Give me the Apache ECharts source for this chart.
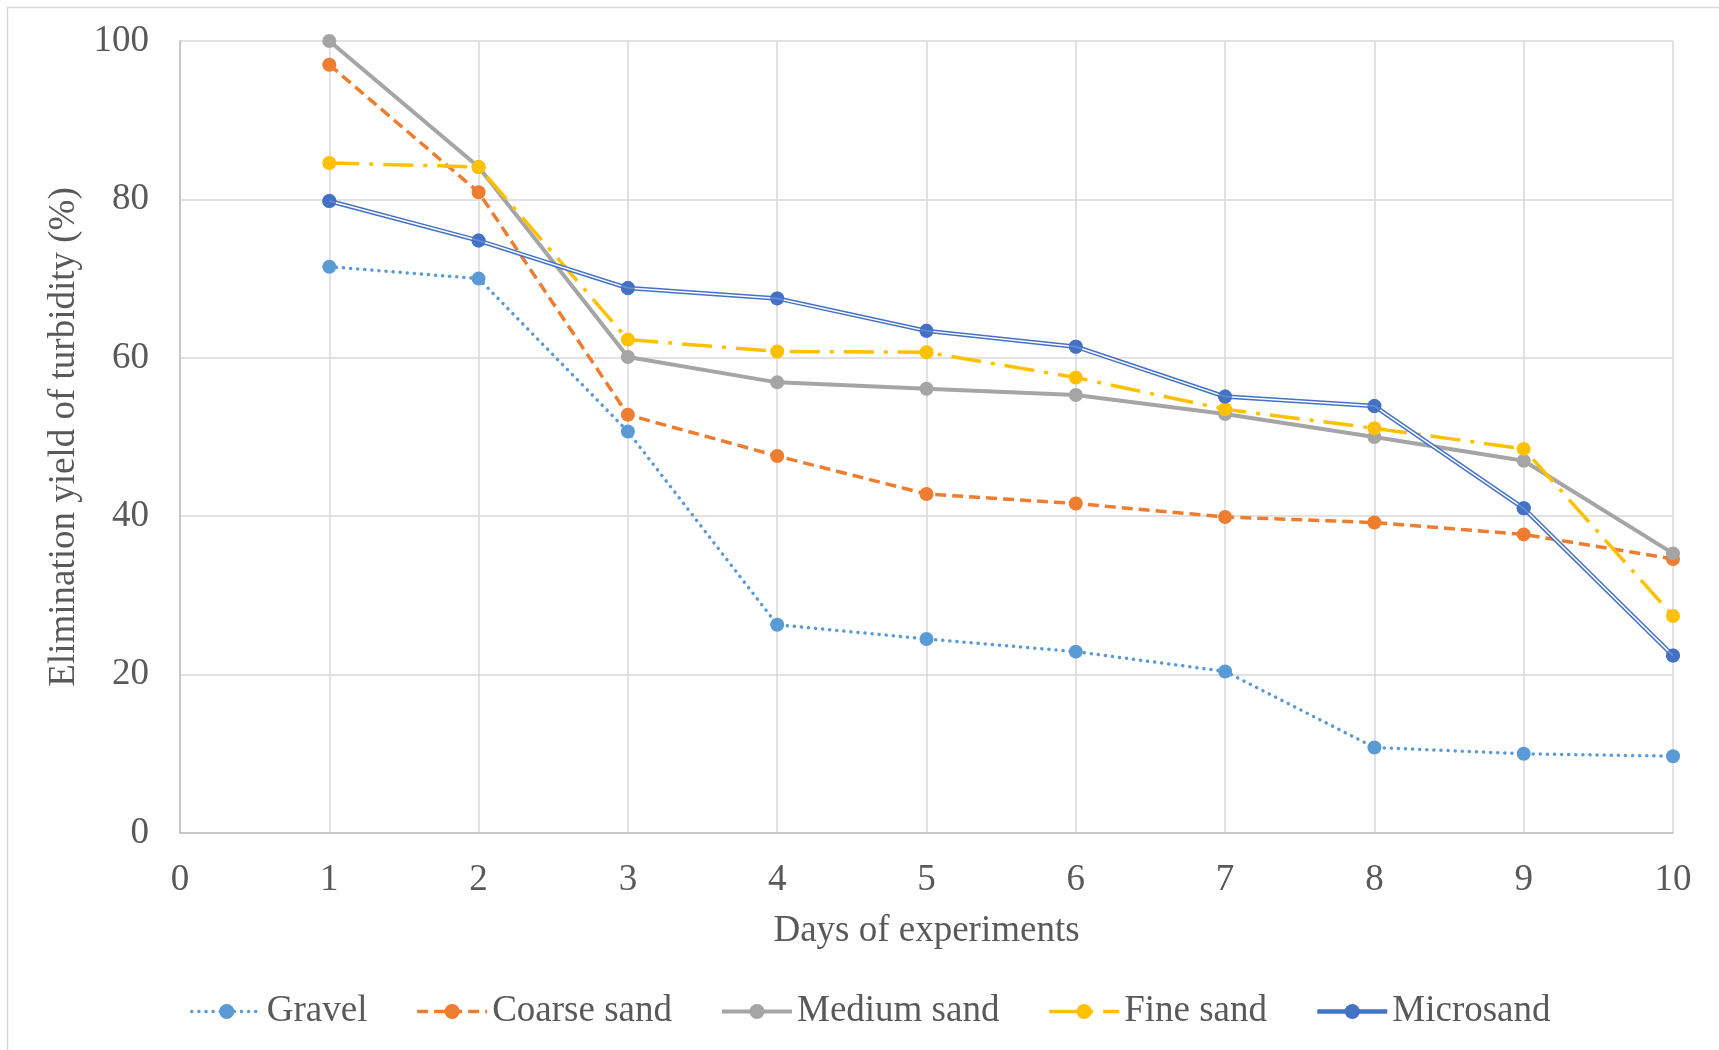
<!DOCTYPE html>
<html>
<head>
<meta charset="utf-8">
<script src="https://cdn.jsdelivr.net/npm/echarts@6/dist/echarts.min.js"></script>
<style>
  html, body { margin: 0; padding: 0; background: #fff; }
  #chart { width: 1719px; height: 1050px; }
</style>
</head>
<body>
<div id="chart"></div>
<script>
const days = [1, 2, 3, 4, 5, 6, 7, 8, 9, 10]
const gravel = [71.5, 70.0, 50.7, 26.3, 24.5, 22.9, 20.4, 10.8, 10.0, 9.7]
const coarseSand = [97.0, 80.9, 52.8, 47.6, 42.8, 41.6, 39.9, 39.2, 37.7, 34.6]
const mediumSand = [100, 84.1, 60.1, 56.9, 56.1, 55.3, 52.9, 50.0, 47.0, 35.3]
const fineSand = [84.6, 84.1, 62.3, 60.8, 60.7, 57.5, 53.5, 51.1, 48.5, 27.4]
const microsand = [79.8, 74.8, 68.8, 67.5, 63.4, 61.4, 55.1, 53.9, 41.0, 22.4]
const legendNames = ['Gravel', 'Coarse sand', 'Medium sand', 'Fine sand', 'Microsand']

const font = '"Liberation Serif", "Times New Roman", serif'
const textColor = '#595959'
const fontSize = 37

// pair each day with its value
function pts(vals) {
  return days.map((d, i) => [d, vals[i]])
}

const chart = echarts.init(document.getElementById('chart'))

const option = {
  backgroundColor: '#fff',
  animation: false,
  textStyle: { fontFamily: font },
  // outer frame of the picture
  graphic: [{
    type: 'rect',
    shape: { x: 7.5, y: 7.5, width: 1760, height: 1100 },
    style: { fill: 'none', stroke: '#D9D9D9', lineWidth: 1.5 },
    silent: true
  }],
  grid: {
    left: 180,
    right: 46,
    top: 41,
    bottom: 217
  },
  legend: {
    data: legendNames,
    left: 185,
    top: 988,
    itemWidth: 70,
    itemHeight: 19,
    itemGap: 48,
    lineStyle: { width: 'inherit' },
    textStyle: { color: textColor, fontSize: fontSize, fontFamily: font }
  },
  xAxis: {
    type: 'value',
    min: 0,
    max: 10,
    interval: 1,
    name: 'Days of experiments',
    nameLocation: 'middle',
    nameGap: 80,
    nameTextStyle: { color: textColor, fontSize: fontSize, fontFamily: font },
    axisLine: { lineStyle: { color: '#BFBFBF', width: 1.5 } },
    axisTick: { show: false },
    axisLabel: { color: textColor, fontSize: fontSize, margin: 29, fontFamily: font },
    splitLine: { show: true, lineStyle: { color: '#D9D9D9', width: 1.5 } }
  },
  yAxis: {
    type: 'value',
    min: 0,
    max: 100,
    interval: 20,
    name: 'Elimination yield of turbidity (%)',
    nameLocation: 'middle',
    nameGap: 96,
    nameTextStyle: { color: textColor, fontSize: fontSize, fontFamily: font },
    axisLine: { show: true, lineStyle: { color: '#BFBFBF', width: 1.5 } },
    axisTick: { show: false },
    axisLabel: { color: textColor, fontSize: fontSize, margin: 31, fontFamily: font },
    splitLine: { lineStyle: { color: '#D9D9D9', width: 1.5 } }
  },
  series: [
    {
      name: 'Gravel',
      type: 'line',
      data: pts(gravel),
      symbol: 'circle',
      symbolSize: 14,
      itemStyle: { color: '#5B9BD5' },
      lineStyle: { color: '#5B9BD5', width: 3.5, type: [0.1, 7], cap: 'round' },
      z: 2
    },
    {
      name: 'Coarse sand',
      type: 'line',
      data: pts(coarseSand),
      symbol: 'circle',
      symbolSize: 14,
      itemStyle: { color: '#ED7D31' },
      lineStyle: { color: '#ED7D31', width: 3.5, type: [11, 6] },
      z: 2
    },
    {
      name: 'Medium sand',
      type: 'line',
      data: pts(mediumSand),
      symbol: 'circle',
      symbolSize: 14,
      itemStyle: { color: '#A5A5A5' },
      lineStyle: { color: '#A5A5A5', width: 4 },
      z: 2
    },
    {
      name: 'Fine sand',
      type: 'line',
      data: pts(fineSand),
      symbol: 'circle',
      symbolSize: 14,
      itemStyle: { color: '#FFC000' },
      lineStyle: { color: '#FFC000', width: 3.5, type: [30, 10, 4, 10] },
      z: 2
    },
    {
      name: 'Microsand',
      type: 'line',
      data: pts(microsand),
      symbol: 'circle',
      symbolSize: 14,
      itemStyle: { color: '#4472C4' },
      lineStyle: { color: '#4472C4', width: 4.5 },
      z: 3
    },
    // white core gives the double line look
    {
      name: 'microsand-core',
      type: 'line',
      data: pts(microsand),
      symbol: 'none',
      lineStyle: { color: '#fff', width: 1.5 },
      silent: true,
      z: 4
    },
    {
      name: 'microsand-dots',
      type: 'scatter',
      data: pts(microsand),
      symbol: 'circle',
      symbolSize: 14,
      itemStyle: { color: '#4472C4' },
      silent: true,
      z: 5
    }
  ]
}

chart.setOption(option)
window.addEventListener('resize', () => {
  chart.resize()
})
</script>
</body>
</html>
